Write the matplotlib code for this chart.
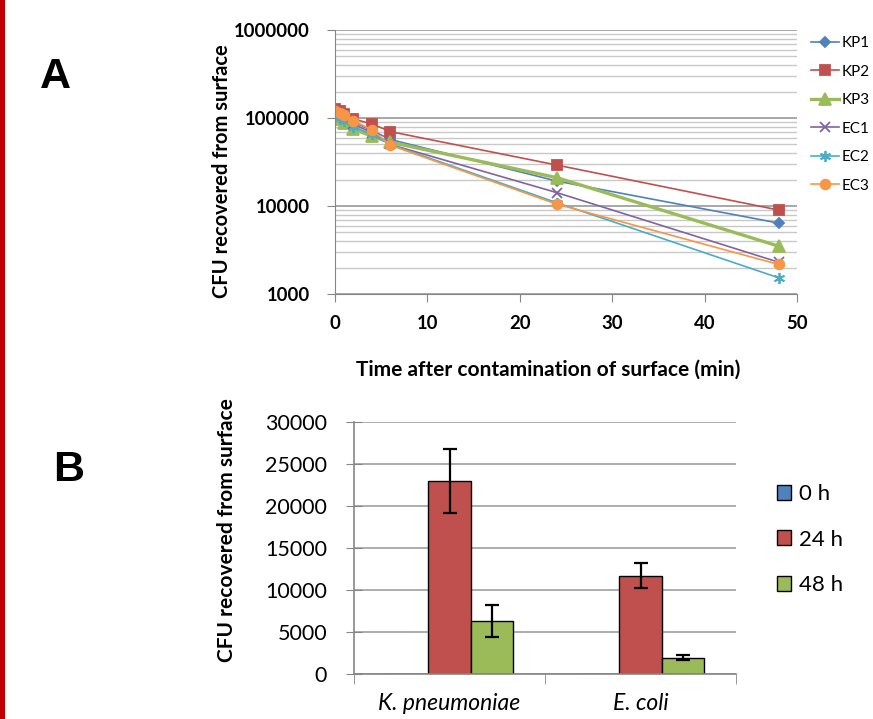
import matplotlib
matplotlib.use("Agg")
import matplotlib.pyplot as plt
import numpy as np
from matplotlib.ticker import LogLocator, FixedLocator, NullFormatter

# panel A data: CFU over time (log scale)
times = [0, 0.5, 1, 2, 4, 6, 24, 48]
kp1 = [120000, 115000, 105000, 90000, 72000, 57000, 19200, 6400]
kp2 = [125000, 121000, 110000, 97500, 85500, 70000, 29200, 9000]
kp3 = [100000, 97000, 87000, 75000, 62000, 53000, 21000, 3500]
ec1 = [115000, 110000, 100000, 85000, 68000, 50000, 14200, 2300]
ec2 = [105000, 100000, 92000, 80000, 65000, 50000, 10900, 1530]
ec3 = [120000, 115000, 107000, 93000, 73000, 49000, 10500, 2170]
series_names = ["KP1", "KP2", "KP3", "EC1", "EC2", "EC3"]

# panel B data: mean CFU and error per organism
organisms = ["K. pneumoniae", "E. coli"]
time_labels = ["0 h", "24 h", "48 h"]
cfu_0h = [0, 0]
cfu_24h = [23000, 11700]
cfu_48h = [6250, 1950]
err_24h = [3800, 1450]
err_48h = [1900, 300]

plt.rcParams['font.family'] = ['Lato', 'DejaVu Sans']

fig = plt.figure(figsize=(8.73, 7.19), dpi=100)
W, H = 873, 719

def box(l, t, r, b):
    return [l / W, 1 - b / H, (r - l) / W, (b - t) / H]

axis_col = "#868686"

# ---- panel A ----
axA = fig.add_axes(box(335, 30, 797, 294))
colors = ["#4F81BD", "#C0504D", "#9BBB59", "#8064A2", "#4BACC6", "#F79646"]
markers = ["D", "s", "^", "x", (6, 2, 0), "o"]
msizes = [5, 7, 8, 7, 8, 7]
lws = [1.2, 1.2, 2.4, 1.2, 1.2, 1.2]
for ys, name, c, m, ms, lw in zip([kp1, kp2, kp3, ec1, ec2, ec3], series_names, colors, markers, msizes, lws):
    axA.plot(times, ys, color=c, marker=m, markersize=ms, lw=lw, label=name,
             markeredgecolor=c, markeredgewidth=1.3)

axA.set_yscale("log")
axA.set_ylim(1000, 1000000)
axA.set_xlim(0, 50)
axA.yaxis.set_major_locator(FixedLocator([1000, 10000, 100000, 1000000]))
axA.set_yticklabels(["1000", "10000", "100000", "1000000"])
axA.yaxis.set_minor_locator(LogLocator(base=10, subs=np.arange(2, 10)))
axA.yaxis.set_minor_formatter(NullFormatter())
axA.set_xticks([0, 10, 20, 30, 40, 50])
axA.grid(axis="y", which="major", color="#a0a0a0", lw=1.3)
axA.grid(axis="y", which="minor", color="#c8c8c8", lw=1.0)
axA.set_axisbelow(True)
for s in ["top", "right"]:
    axA.spines[s].set_visible(False)
for s in ["left", "bottom"]:
    axA.spines[s].set_color(axis_col)
axA.tick_params(axis="y", which="major", direction="out", length=6, color=axis_col,
                labelsize=13.3, pad=12)
axA.tick_params(axis="y", which="minor", length=0)
axA.tick_params(axis="x", direction="out", length=6, color=axis_col, labelsize=13.3, pad=9)
for lab in axA.get_xticklabels() + axA.get_yticklabels():
    lab.set_fontweight("bold")
axA.set_xlabel("Time after contamination of surface (min)", fontsize=15, fontweight="bold")
axA.xaxis.set_label_coords((548 - 335) / (797 - 335), -(370 - 294) / 264, transform=axA.transAxes)
axA.xaxis.label.set_va("center")
axA.set_ylabel("CFU recovered from surface", fontsize=14.5, fontweight="bold")
axA.yaxis.set_label_coords(-(335 - 222) / 462, (294 - 171) / 264)
axA.yaxis.label.set_va("center")

fig.legend(*axA.get_legend_handles_labels(), loc="upper left",
           bbox_to_anchor=(811 / W, 1 - 36 / H), frameon=False, fontsize=11,
           handlelength=1.85, handletextpad=0.15, labelspacing=0.95, borderpad=0,
           borderaxespad=0)

# ---- panel B ----
axB = fig.add_axes(box(354, 421.7, 736, 674))
x = np.arange(len(organisms))
w = 0.223
axB.bar(x - w, cfu_0h, w, color="#4F81BD", edgecolor="black", lw=1, label=time_labels[0])
axB.bar(x, cfu_24h, w, color="#C0504D", edgecolor="black", lw=1, label=time_labels[1])
axB.bar(x + w, cfu_48h, w, color="#9BBB59", edgecolor="black", lw=1, label=time_labels[2])
axB.errorbar(x, cfu_24h, yerr=err_24h, fmt="none", ecolor="black", elinewidth=1.6,
             capsize=5, capthick=1.6)
axB.errorbar(x + w, cfu_48h, yerr=err_48h, fmt="none", ecolor="black", elinewidth=1.6,
             capsize=5, capthick=1.6)
axB.set_xlim(-0.5, 1.5)
axB.set_ylim(0, 30000)
axB.set_yticks(np.arange(0, 30001, 5000))
axB.set_xticks(x)
axB.set_xticklabels(organisms, fontstyle="italic", fontsize=16.5)
axB.xaxis.set_minor_locator(FixedLocator([-0.5, 0.5, 1.5]))
axB.tick_params(axis="x", which="major", length=0, pad=14)
axB.tick_params(axis="x", which="minor", direction="out", length=7, color=axis_col)
axB.tick_params(axis="y", direction="inout", length=12, color=axis_col, labelsize=15.5, pad=13.5)
axB.grid(axis="y", color="#a0a0a0", lw=1.2)
axB.set_axisbelow(True)
for s in ["top", "right"]:
    axB.spines[s].set_visible(False)
for s in ["left", "bottom"]:
    axB.spines[s].set_color(axis_col)
    axB.spines[s].set_linewidth(1.2)
axB.set_ylabel("CFU recovered from surface", fontsize=15, fontweight="bold")
axB.yaxis.set_label_coords(-(354 - 227) / 382, (674 - 530) / 252.3)
axB.yaxis.label.set_va("center")

fig.legend(*axB.get_legend_handles_labels(), loc="upper left",
           bbox_to_anchor=(777 / W, 1 - 484 / H), frameon=False, fontsize=16,
           handlelength=0.65, handleheight=0.65, handletextpad=0.35, labelspacing=1.15,
           borderpad=0, borderaxespad=0)

# panel letters and red bar on the left
fig.text(55 / W, 1 - 77 / H, "A", fontsize=31, fontweight="bold", ha="center", va="center",
         family=["Liberation Sans", "DejaVu Sans"])
fig.text(69 / W, 1 - 470 / H, "B", fontsize=31, fontweight="bold", ha="center", va="center",
         family=["Liberation Sans", "DejaVu Sans"])
fig.add_artist(plt.Rectangle((0, 0), 5 / W, 1, transform=fig.transFigure, color="#C00000", lw=0))

fig.savefig("out.png", dpi=100)
